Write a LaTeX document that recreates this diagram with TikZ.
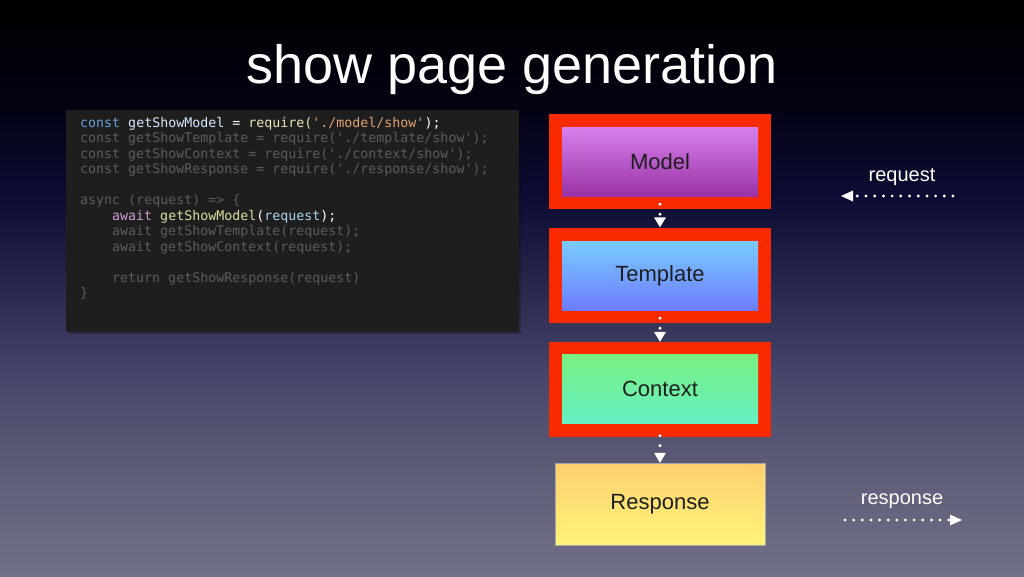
\documentclass[tikz,border=0pt]{standalone}
\usepackage{fontspec}
\setmainfont{Liberation Sans}
\newfontfamily\codefont{DejaVu Sans Mono}
\usetikzlibrary{arrows.meta}
\definecolor{bg0}{HTML}{000000}
\definecolor{bg1}{HTML}{020212}
\definecolor{bg2}{HTML}{0C0C34}
\definecolor{bg3}{HTML}{28284C}
\definecolor{bg4}{HTML}{46466A}
\definecolor{bg5}{HTML}{5E5E78}
\definecolor{bg6}{HTML}{707088}
\pgfdeclareverticalshading{slidebg}{100bp}{color(0bp)=(bg6); color(25bp)=(bg6); color(33.68bp)=(bg5); color(42.36bp)=(bg4); color(50.17bp)=(bg3); color(57.99bp)=(bg2); color(66.32bp)=(bg1); color(75bp)=(bg0); color(100bp)=(bg0)}
\definecolor{hlred}{HTML}{FA2A00}
\definecolor{codebg}{HTML}{1E1E1E}
\definecolor{dim}{HTML}{5C5C5C}
\definecolor{kwblue}{HTML}{6A9FD8}
\definecolor{idlight}{HTML}{D6E8FF}
\definecolor{reqyel}{HTML}{E8E4B8}
\definecolor{strorange}{HTML}{E0A070}
\definecolor{kwpink}{HTML}{D19AD8}
\definecolor{fnyel}{HTML}{E0DCA0}
\definecolor{paramblue}{HTML}{A8D4F0}
\definecolor{modtop}{HTML}{D880EE}
\definecolor{modbot}{HTML}{9A32A6}
\definecolor{tpltop}{HTML}{7ACCFF}
\definecolor{tplbot}{HTML}{6C7CFF}
\definecolor{ctxtop}{HTML}{78F080}
\definecolor{ctxbot}{HTML}{66F0C4}
\definecolor{restop}{HTML}{FFD070}
\definecolor{resbot}{HTML}{FFF47A}
\definecolor{boxtext}{HTML}{1E1E1E}
\tikzset{
  hlbox/.style={fill=hlred, draw=none, minimum width=222pt, minimum height=95pt, inner sep=0pt},
  stagebox/.style={draw=none, minimum width=196pt, minimum height=69pt, inner sep=0pt,
    font=\fontsize{22}{26}\selectfont, text=boxtext},
  codeline/.style={anchor=base west, inner sep=0pt, font=\codefont\fontsize{13.3}{15.5}\selectfont, text=dim},
  flow/.style={draw=white, line width=3.4pt, line cap=round, dash pattern=on 0pt off 10pt,
    -{Triangle[length=10pt,width=12pt,fill=white,line width=0pt]}},
  ioarrow/.style={draw=white, line width=3.2pt, line cap=round, dash pattern=on 0pt off 8.7pt,
    -{Triangle[length=12pt,width=11pt,fill=white,line width=0pt]}},
  iolabel/.style={text=white, font=\fontsize{20}{24}\selectfont, inner sep=0pt}
}
\begin{document}
\begin{tikzpicture}[x=1pt,y=-1pt]
\useasboundingbox (0,0) rectangle (1024,576);
\shade[shading=slidebg] (0,0) rectangle (1024,576);
% title
\node[anchor=base, text=white, inner sep=0pt, font=\fontsize{54}{62}\selectfont] (title) at (512,83) {show page generation};
% code panel
\fill[black, opacity=0.2] (68,112) rectangle (521,334);
\node[fill=codebg, minimum width=453pt, minimum height=222pt, inner sep=0pt, anchor=north west] (code) at (66,110) {};
\node[codeline] (c1) at (80,127) {\textcolor{kwblue}{const} \textcolor{idlight}{getShowModel} \textcolor{white}{=} \textcolor{reqyel}{require(}\textcolor{strorange}{'./model/show'}\textcolor{white}{);}};
\node[codeline] (c2) at (80,142.5) {const getShowTemplate = require('./template/show');};
\node[codeline] (c3) at (80,158) {const getShowContext = require('./context/show');};
\node[codeline] (c4) at (80,173.5) {const getShowResponse = require('./response/show');};
\node[codeline] (c6) at (80,204.5) {async (request) => \{};
\node[codeline] (c7) at (112,220) {\textcolor{kwpink}{await} \textcolor{fnyel}{getShowModel}\textcolor{white}{(}\textcolor{paramblue}{request}\textcolor{white}{);}};
\node[codeline] (c8) at (112,235.5) {await getShowTemplate(request);};
\node[codeline] (c9) at (112,251) {await getShowContext(request);};
\node[codeline] (c11) at (112,282) {return getShowResponse(request)};
\node[codeline] (c12) at (80,297.5) {\}};
% stages
\node[hlbox] (modelhl) at (660,161.5) {};
\node[stagebox, top color=modtop, bottom color=modbot] (model) at (660,161.5) {Model};
\node[hlbox] (templatehl) at (660,275) {};
\node[stagebox, top color=tpltop, bottom color=tplbot] (template) at (660,275.5) {Template};
\node[hlbox] (contexthl) at (660,389.5) {};
\node[stagebox, top color=ctxtop, bottom color=ctxbot] (context) at (660,389) {Context};
\node[stagebox, minimum width=210pt, minimum height=82pt, top color=restop, bottom color=resbot, draw=black!35, line width=0.4pt] (response) at (660,504) {Response};
% connectors
\draw[flow, dash phase=2pt] (model.south) -- (templatehl.north);
\draw[flow, dash phase=2pt] (template.south) -- (contexthl.north);
\draw[flow, dash phase=8pt] ([yshift=-10pt]context.south) -- (response.north);
% request / response
\node[iolabel, anchor=base] (reqlabel) at (902,181) {request};
\coordinate (reqstart) at (953,196);
\coordinate (reqend) at (841,196);
\draw[ioarrow] (reqstart) -- (reqend);
\node[iolabel, anchor=base] (reslabel) at (902,504) {response};
\coordinate (resstart) at (845,520);
\coordinate (resend) at (962,520);
\draw[ioarrow, dash pattern=on 0pt off 8.64pt] (resstart) -- (resend);
\end{tikzpicture}
\end{document}
